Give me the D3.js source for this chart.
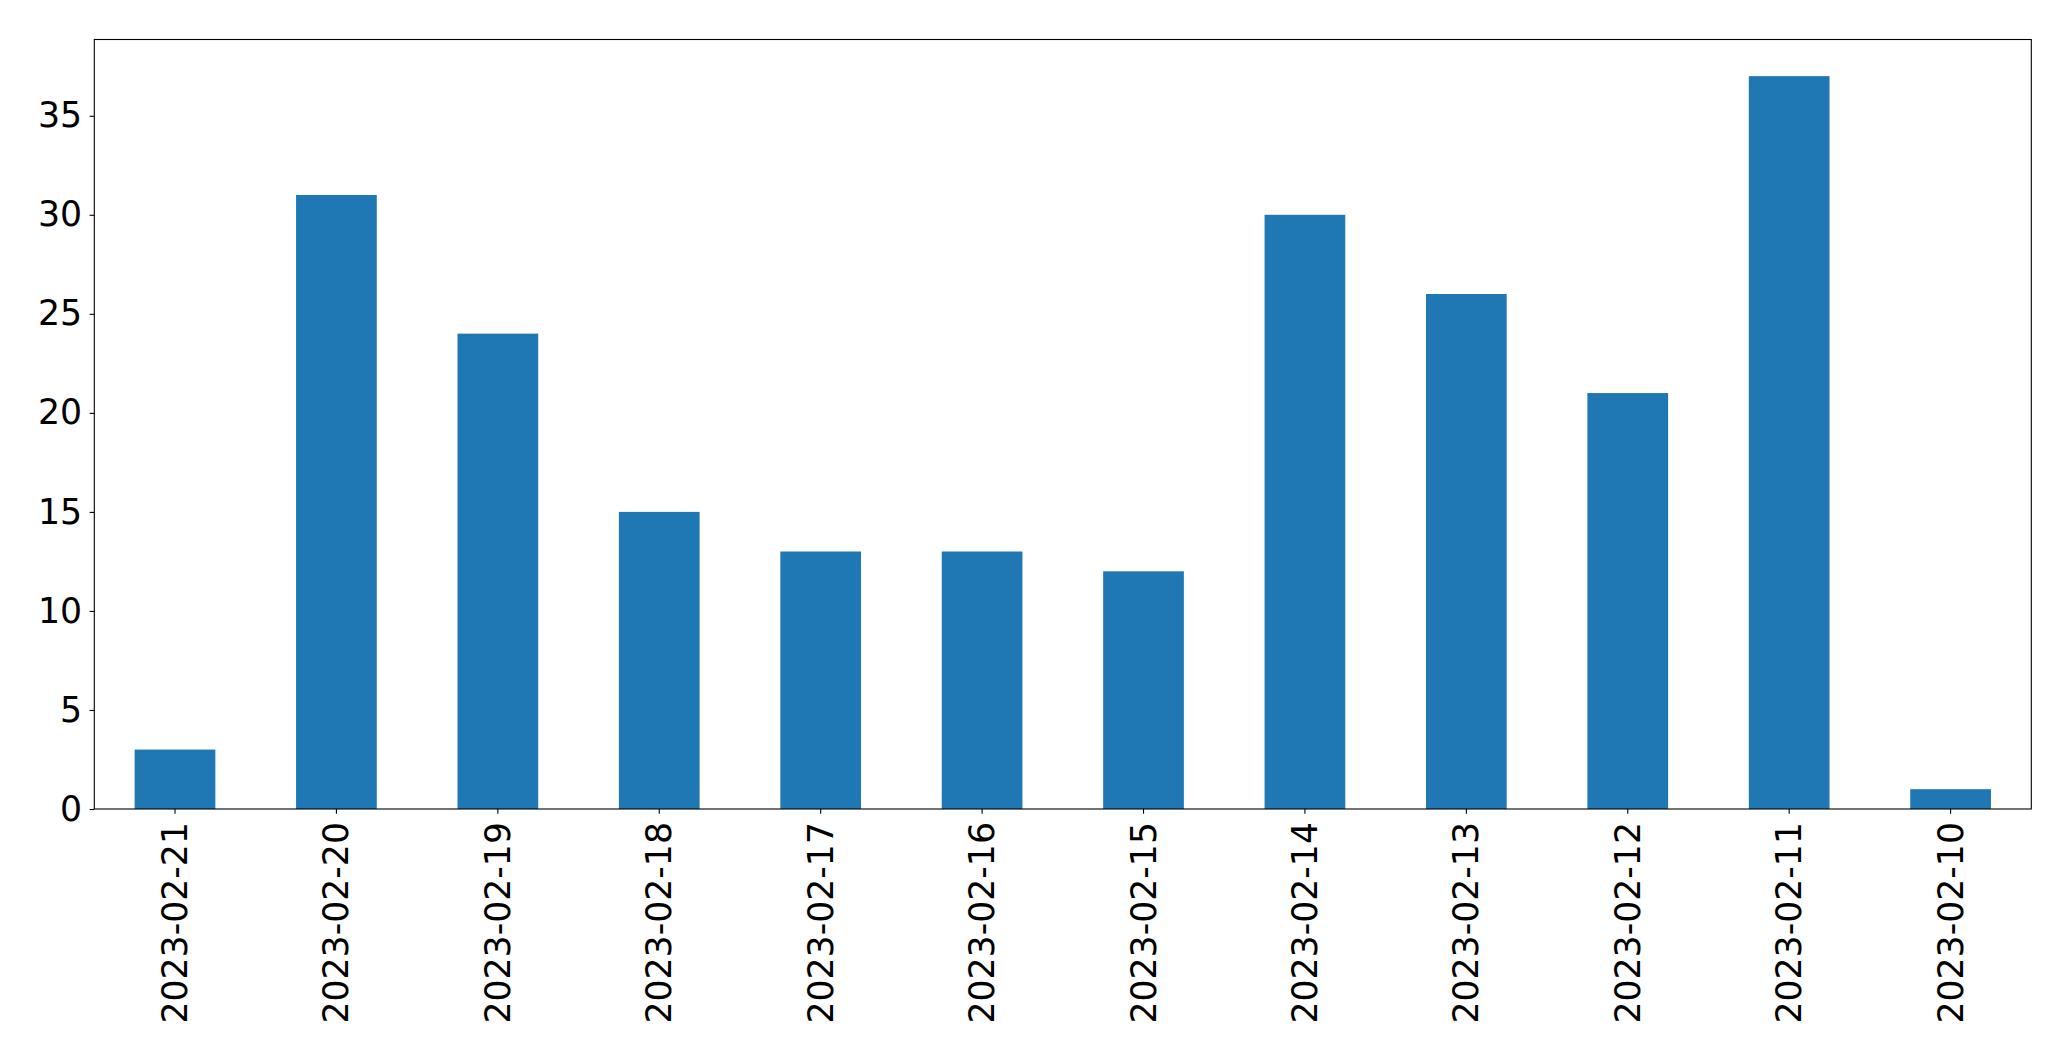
<!DOCTYPE html>
<html><head><meta charset="utf-8">
<script src="https://cdn.jsdelivr.net/npm/d3@7"></script>
<style>html,body{margin:0;padding:0;background:#fff;} svg{display:block;}</style>
</head><body>
<script>
const categories = ["2023-02-21","2023-02-20","2023-02-19","2023-02-18","2023-02-17","2023-02-16","2023-02-15","2023-02-14","2023-02-13","2023-02-12","2023-02-11","2023-02-10"];
const values = [3, 31, 24, 15, 13, 13, 12, 30, 26, 21, 37, 1];
const yTicks = [0, 5, 10, 15, 20, 25, 30, 35];

const W = 2071, H = 1061;
const m = {left: 94.3, right: 2031.3, top: 39.5, bottom: 809};
const fontSize = 34.7;
const svg = d3.select("body").append("svg").attr("width", W).attr("height", H);

const x = d3.scaleBand().domain(categories).range([m.left, m.right]).paddingInner(0.5).paddingOuter(0.25);
const y = d3.scaleLinear().domain([0, d3.max(values) * 1.05]).range([m.bottom, m.top]);

svg.append("g").selectAll("rect").data(values).join("rect")
  .attr("x", (d, i) => x(categories[i]))
  .attr("width", x.bandwidth())
  .attr("y", d => y(d))
  .attr("height", d => y(0) - y(d))
  .attr("fill", "#1f77b4");

const yAxis = svg.append("g").attr("transform", `translate(${m.left},0)`)
  .call(d3.axisLeft(y).tickValues(yTicks).tickSize(4.7).tickPadding(7.5).tickFormat(d3.format("d")));
yAxis.select(".domain").remove();
yAxis.selectAll("text").attr("font-family", "DejaVu Sans").attr("font-size", fontSize).attr("fill", "#000");
yAxis.selectAll("line").attr("stroke", "#000").attr("stroke-width", 1.1);

const xAxis = svg.append("g").attr("transform", `translate(0,${m.bottom})`)
  .call(d3.axisBottom(x).tickSize(4.7).tickPadding(0));
xAxis.select(".domain").remove();
xAxis.selectAll("line").attr("stroke", "#000").attr("stroke-width", 1.1);
xAxis.selectAll("text")
  .attr("font-family", "DejaVu Sans").attr("font-size", fontSize).attr("fill", "#000")
  .attr("text-anchor", "end")
  .attr("dy", null)
  .attr("y", 0)
  .attr("transform", "translate(0,13) rotate(-90)")
  .attr("dominant-baseline", "central");

svg.append("rect")
  .attr("x", m.left).attr("y", m.top)
  .attr("width", m.right - m.left).attr("height", m.bottom - m.top)
  .attr("fill", "none").attr("stroke", "#000").attr("stroke-width", 1.1);
</script>
</body></html>
